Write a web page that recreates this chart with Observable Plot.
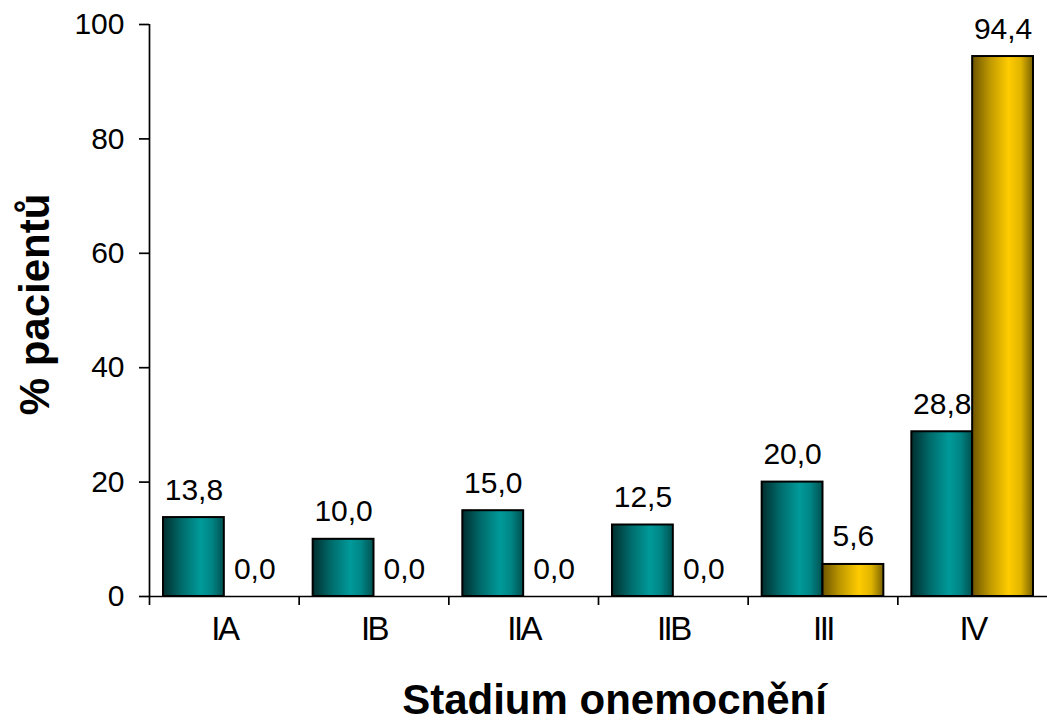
<!DOCTYPE html>
<html>
<head>
<meta charset="utf-8">
<script src="https://cdn.jsdelivr.net/npm/d3@7"></script>
<script src="https://cdn.jsdelivr.net/npm/@observablehq/plot@0.6"></script>
<style>
  html, body { margin: 0; padding: 0; background: #fff; }
  #chart svg { display: block; }
  #chart g[aria-label="x-axis tick label"] text { letter-spacing: -2.5px; }
</style>
</head>
<body>
<div id="chart"></div>
<script>
// Stages of the disease and the share of patients (%) in the two groups
const stages = ["IA", "IB", "IIA", "IIB", "III", "IV"];
const groups = ["skupina 1", "skupina 2"];
const valuesGroup1 = [13.8, 10.0, 15.0, 12.5, 20.0, 28.8];
const valuesGroup2 = [0.0, 0.0, 0.0, 0.0, 5.6, 94.4];
const yTicks = [0, 20, 40, 60, 80, 100];

const rows = stages.flatMap((stage, i) => [
  {stage, i, group: groups[0], value: valuesGroup1[i]},
  {stage, i, group: groups[1], value: valuesGroup2[i]}
]);

// Each stage occupies one unit on x; the two bars sit side by side inside it
const slot = d3.scaleBand().domain(groups).range([0, 1]).paddingInner(0).paddingOuter(0.23);
const barX1 = (d) => d.i + slot(d.group);
const barX2 = (d) => d.i + slot(d.group) + slot.bandwidth();
const barXc = (d) => d.i + slot(d.group) + slot.bandwidth() / 2;

const fmt = (v) => d3.format(".1f")(v).replace(".", ",");
const font = "'Liberation Sans', Arial, Helvetica, sans-serif";

// Horizontal shading used to fill the bars
function gradients() {
  const ns = "http://www.w3.org/2000/svg";
  const defs = document.createElementNS(ns, "defs");
  const make = (id, stops) => {
    const g = document.createElementNS(ns, "linearGradient");
    g.setAttribute("id", id);
    g.setAttribute("x1", "0"); g.setAttribute("x2", "1");
    g.setAttribute("y1", "0"); g.setAttribute("y2", "0");
    for (const [o, c] of stops) {
      const s = document.createElementNS(ns, "stop");
      s.setAttribute("offset", o);
      s.setAttribute("stop-color", c);
      g.appendChild(s);
    }
    defs.appendChild(g);
  };
  make("gradTeal", [[0, "#002e2e"], [0.3, "#006a6a"], [0.62, "#009a9a"], [0.8, "#008585"], [1, "#005050"]]);
  make("gradGold", [[0, "#6e5500"], [0.3, "#c09a00"], [0.6, "#ffcc00"], [0.8, "#e0b400"], [1, "#7a6200"]]);
  return defs;
}

const rowsG1 = rows.filter((d) => d.group === groups[0]);
const rowsG2 = rows.filter((d) => d.group === groups[1]);

const chart = Plot.plot({
  width: 1047,
  height: 721,
  marginTop: 24,
  marginBottom: 125,
  marginLeft: 149,
  marginRight: 0,
  style: {fontFamily: font, background: "#fff", color: "#000"},
  x: {type: "linear", domain: [0, stages.length], axis: null},
  y: {domain: [0, 100], axis: null},
  marks: [
    gradients,
    // bars
    Plot.rectY(rowsG1, {x1: barX1, x2: barX2, y: "value", fill: "url(#gradTeal)", stroke: "#000", strokeWidth: 2}),
    Plot.rectY(rowsG2, {x1: barX1, x2: barX2, y: "value", fill: "url(#gradGold)", stroke: "#000", strokeWidth: 2}),
    // axis lines
    Plot.ruleY([0], {stroke: "#000", strokeWidth: 1.7}),
    Plot.ruleX([0], {y1: 100, y2: 0, insetBottom: -9, stroke: "#000", strokeWidth: 1.7}),
    // tick marks between stages
    Plot.ruleX(d3.range(1, stages.length), {y1: 0, y2: 0, insetBottom: -9, stroke: "#000", strokeWidth: 1.7}),
    // y axis ticks and labels
    Plot.axisY(yTicks, {tickSize: 10, tickPadding: 15, fontSize: 30, strokeWidth: 1.7, tickFormat: (d) => d, label: null}),
    // stage labels
    Plot.axisX(stages.map((_, i) => i + 0.5), {
      tickSize: 0, tickPadding: 20, fontSize: 33, label: null,
      tickFormat: (d) => stages[Math.floor(d)]
    }),
    // value labels
    Plot.text(rows, {x: barXc, y: "value", text: (d) => fmt(d.value), lineAnchor: "bottom", dy: -18, fontSize: 30, fill: "#000"}),
    // axis titles
    Plot.text(["Stadium onemocnění"], {frameAnchor: "bottom", dx: 16, dy: 117, lineAnchor: "bottom", fontSize: 42, fontWeight: "bold", fill: "#000"}),
    Plot.text(["% pacientů"], {frameAnchor: "left", dx: -114, dy: -6, rotate: -90, textAnchor: "middle", lineAnchor: "middle", fontSize: 42, fontWeight: "bold", fill: "#000"})
  ]
});

document.getElementById("chart").appendChild(chart);
</script>
</body>
</html>
